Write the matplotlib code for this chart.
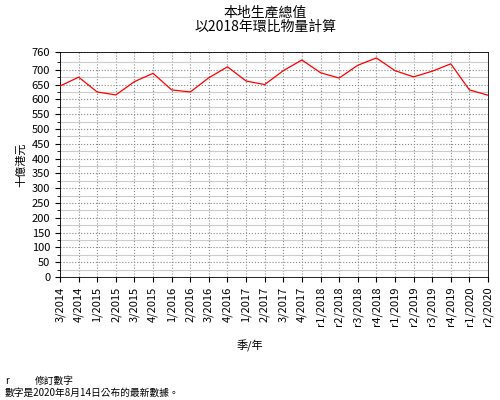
import matplotlib.pyplot as plt

plt.rcParams['font.family'] = ['Noto Sans CJK TC', 'DejaVu Sans']

quarters = ["3/2014", "4/2014", "1/2015", "2/2015", "3/2015", "4/2015", "1/2016", "2/2016",
            "3/2016", "4/2016", "1/2017", "2/2017", "3/2017", "4/2017", "r1/2018", "r2/2018",
            "r3/2018", "r4/2018", "r1/2019", "r2/2019", "r3/2019", "r4/2019", "r1/2020", "r2/2020"]
gdp = [645, 675, 625, 615, 660, 688, 632, 625, 673, 710, 662, 650,
       697, 733, 690, 672, 715, 740, 697, 676, 695, 720, 632, 614]
yticks = list(range(0, 701, 50)) + [760]

fig = plt.figure(figsize=(5, 4), dpi=100)
ax = fig.add_axes([0.12, 0.3075, 0.856, 0.5625])
x = range(len(quarters))
ax.plot(x, gdp, color="red", linewidth=0.9, zorder=3)
ax.set_xlim(0, len(quarters) - 1)
ax.set_ylim(0, 760)
ax.set_yticks(yticks)
ax.set_yticks(range(25, 760, 50), minor=True)
ax.set_xticks(list(x))
ax.set_xticklabels(quarters, rotation=90, fontsize=8)
ax.tick_params(axis="y", labelsize=8)
ax.grid(True, which="major", color="#888888", linestyle=":", linewidth=0.8)
ax.grid(True, which="minor", axis="y", color="#cccccc", linestyle="-", linewidth=0.8)
for s in ax.spines.values():
    s.set_linewidth(0.6)
ax.set_ylabel("十億港元", fontsize=8)
fig.text(0.5, 0.125, "季/年", fontsize=8, ha="center")
fig.text(0.53, 0.985, "本地生產總值\n以2018年環比物量計算", fontsize=10, ha="center", va="top", linespacing=1.0)
fig.text(0.01, 0.04, "r", fontsize=7)
fig.text(0.07, 0.04, "修訂數字", fontsize=7)
fig.text(0.01, 0.01, "數字是2020年8月14日公布的最新數據。", fontsize=7)
fig.savefig("out.png")
